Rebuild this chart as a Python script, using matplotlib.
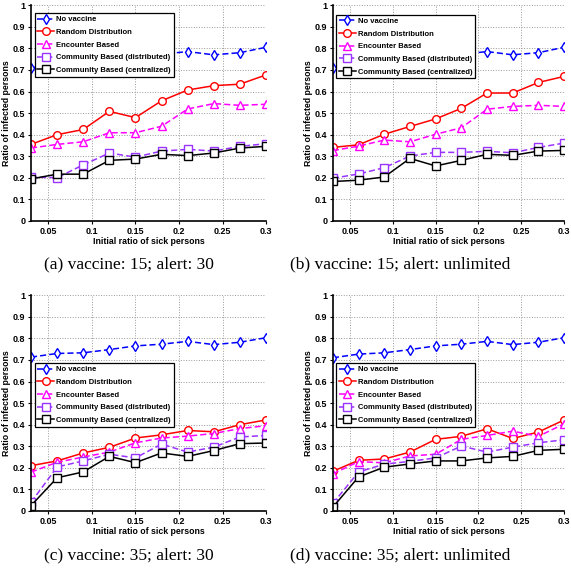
import matplotlib
matplotlib.use('Agg')
import matplotlib.pyplot as plt

plt.rcParams['font.family'] = 'Liberation Sans'
plt.rcParams['font.weight'] = 'bold'

# valores del eje x (proporción inicial de enfermos)
x = [0.03, 0.06, 0.09, 0.12, 0.15, 0.18, 0.21, 0.24, 0.27, 0.30]

series_names = ['No vaccine', 'Random Distribution', 'Encounter Based',
                'Community Based (distributed)', 'Community Based (centralized)']

# (a) vaccine: 15; alert: 30
a_none = [0.71, 0.727, 0.733, 0.748, 0.765, 0.773, 0.785, 0.77, 0.78, 0.805]
a_rand = [0.355, 0.40, 0.424, 0.508, 0.479, 0.557, 0.607, 0.627, 0.634, 0.677]
a_enc = [0.338, 0.355, 0.367, 0.409, 0.409, 0.439, 0.519, 0.544, 0.536, 0.541]
a_dist = [0.203, 0.201, 0.26, 0.315, 0.296, 0.324, 0.332, 0.324, 0.346, 0.358]
a_cent = [0.195, 0.217, 0.217, 0.281, 0.287, 0.309, 0.303, 0.315, 0.338, 0.346]

# (b) vaccine: 15; alert: unlimited
b_none = [0.71, 0.727, 0.733, 0.748, 0.765, 0.773, 0.785, 0.77, 0.78, 0.805]
b_rand = [0.341, 0.353, 0.402, 0.438, 0.473, 0.522, 0.593, 0.593, 0.642, 0.67]
b_enc = [0.326, 0.347, 0.375, 0.367, 0.402, 0.432, 0.518, 0.531, 0.536, 0.531]
b_dist = [0.198, 0.218, 0.247, 0.301, 0.318, 0.318, 0.323, 0.316, 0.341, 0.361]
b_cent = [0.183, 0.189, 0.204, 0.29, 0.255, 0.281, 0.309, 0.304, 0.324, 0.327]

# (c) vaccine: 35; alert: 30
c_none = [0.713, 0.73, 0.733, 0.748, 0.765, 0.773, 0.786, 0.771, 0.782, 0.803]
c_rand = [0.21, 0.232, 0.269, 0.295, 0.338, 0.353, 0.373, 0.367, 0.40, 0.422]
c_enc = [0.18, 0.226, 0.25, 0.273, 0.316, 0.338, 0.347, 0.359, 0.382, 0.395]
c_dist = [0.04, 0.204, 0.232, 0.263, 0.246, 0.31, 0.273, 0.296, 0.343, 0.35]
c_cent = [0.025, 0.154, 0.181, 0.253, 0.224, 0.269, 0.253, 0.28, 0.312, 0.315]

# (d) vaccine: 35; alert: unlimited
d_none = [0.71, 0.727, 0.733, 0.748, 0.765, 0.773, 0.786, 0.771, 0.782, 0.803]
d_rand = [0.184, 0.235, 0.241, 0.273, 0.332, 0.346, 0.381, 0.336, 0.366, 0.422]
d_enc = [0.172, 0.229, 0.223, 0.255, 0.263, 0.332, 0.35, 0.37, 0.346, 0.404]
d_dist = [0.035, 0.181, 0.217, 0.23, 0.246, 0.301, 0.273, 0.296, 0.316, 0.33]
d_cent = [0.018, 0.158, 0.203, 0.218, 0.232, 0.232, 0.246, 0.253, 0.281, 0.286]

captions = ['(a) vaccine: 15; alert: 30', '(b) vaccine: 15; alert: unlimited',
            '(c) vaccine: 35; alert: 30', '(d) vaccine: 35; alert: unlimited']

estilos = [
    dict(color='#0000ff', ls=(0, (4, 2)), marker='d'),
    dict(color='#ff0000', ls='-', marker='o'),
    dict(color='#ff00ff', ls=(0, (4, 2)), marker='^'),
    dict(color='#9933ff', ls=(0, (4, 2)), marker='s'),
    dict(color='#000000', ls='-', marker='s'),
]

paneles = [
    ([a_none, a_rand, a_enc, a_dist, a_cent], [0.0543, 0.617, 0.4116, 0.374], 0.963),
    ([b_none, b_rand, b_enc, b_dist, b_cent], [0.583, 0.617, 0.405, 0.374], 0.955),
    ([c_none, c_rand, c_enc, c_dist, c_cent], [0.0543, 0.1144, 0.4116, 0.374], 0.685),
    ([d_none, d_rand, d_enc, d_dist, d_cent], [0.583, 0.1144, 0.405, 0.374], 0.685),
]

fig = plt.figure(figsize=(5.71, 5.77), dpi=100)

for i, (datos, pos, ley_y) in enumerate(paneles):
    ax = fig.add_axes(pos)
    for serie, nombre, est in zip(datos, series_names, estilos):
        ax.plot(x, serie, label=nombre, color=est['color'], linestyle=est['ls'],
                marker=est['marker'], markerfacecolor='white', markeredgecolor=est['color'],
                markersize=5.5, linewidth=1.1, markeredgewidth=1.0)
    ax.set_xlim(0.03, 0.3)
    ax.set_ylim(0, 1)
    ax.set_xticks([0.05, 0.1, 0.15, 0.2, 0.25, 0.3])
    ax.set_xticklabels(['0.05', '0.1', '0.15', '0.2', '0.25', '0.3'])
    ax.set_yticks([i / 10 for i in range(11)])
    ax.set_yticklabels(['0', '0.1', '0.2', '0.3', '0.4', '0.5', '0.6', '0.7', '0.8', '0.9', '1'])
    ax.tick_params(labelsize=6.5, length=2.5, width=0.8, pad=1.5)
    for lbl in ax.get_xticklabels() + ax.get_yticklabels():
        lbl.set_fontweight('bold')
    ax.grid(True, linestyle=':', color='#999999', linewidth=0.7)
    for lado in ['top', 'right']:
        ax.spines[lado].set_visible(False)
    for lado in ['left', 'bottom']:
        ax.spines[lado].set_linewidth(1.2)
    ax.set_xlabel('Initial ratio of sick persons', fontsize=6.3, fontweight='bold', labelpad=1)
    ax.set_ylabel('Ratio of infected persons', fontsize=6.3, fontweight='bold', labelpad=1)
    leg = ax.legend(loc='upper left', bbox_to_anchor=(0.015, ley_y),
                    prop={'size': 5.5, 'weight': 'bold'},
                    handlelength=2.2, handletextpad=0.3, borderpad=0.35, labelspacing=0.7,
                    fancybox=False, framealpha=1, borderaxespad=0)
    leg.get_frame().set_edgecolor('black')
    leg.get_frame().set_linewidth(0.9)

# subtítulos
fig.text(0.225, 0.541, captions[0], family='Liberation Serif', weight='normal',
         fontsize=12.5, ha='center', va='center')
fig.text(0.70, 0.541, captions[1], family='Liberation Serif', weight='normal',
         fontsize=12.5, ha='center', va='center')
fig.text(0.225, 0.038, captions[2], family='Liberation Serif', weight='normal',
         fontsize=12.5, ha='center', va='center')
fig.text(0.70, 0.038, captions[3], family='Liberation Serif', weight='normal',
         fontsize=12.5, ha='center', va='center')

fig.savefig('out.png', dpi=100)
